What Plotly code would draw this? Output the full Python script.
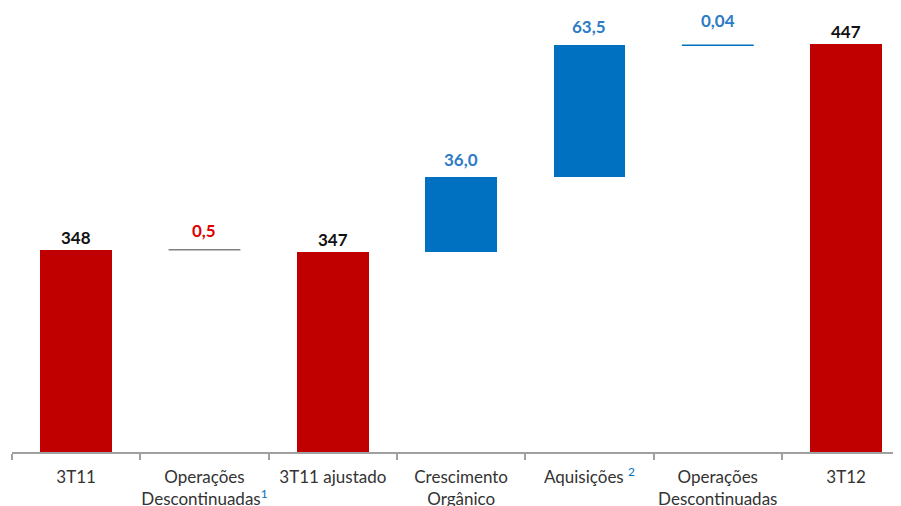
import plotly.graph_objects as go

categories = ["3T11", "Operações<br>Descontinuadas<sup><span style='color:#0070C0'>1</span></sup>",
              "3T11 ajustado", "Crescimento<br>Orgânico",
              "Aquisições <sup><span style='color:#0070C0'>2</span></sup>",
              "Operações<br>Descontinuadas", "3T12"]
values = [348, -0.5, 347, 36.0, 63.5, 0.04, 447]
labels = ["348", "0,5", "347", "36,0", "63,5", "0,04", "447"]
kinds = ["total", "line", "total", "delta", "delta", "line", "total"]

RED = "#C00000"
BLUE = "#0070C0"
GRAY = "#808080"
FONT = "Lato, Open Sans, sans-serif"

fig = go.Figure()

level = 0
bases, tops = [], []
for v, k in zip(values, kinds):
    if k == "total":
        bases.append(0)
        tops.append(v)
        level = v
    else:
        start = level
        level = level + v
        bases.append(start)
        tops.append(level)

bw = 0.56
xs = list(range(len(categories)))

for i, k in enumerate(kinds):
    if k == "total":
        fig.add_trace(go.Bar(x=[i], y=[tops[i]], base=0, width=bw,
                             marker=dict(color=RED, line=dict(width=0)), showlegend=False))
    elif k == "delta":
        fig.add_trace(go.Bar(x=[i], y=[tops[i] - bases[i]], base=bases[i], width=bw,
                             marker=dict(color=BLUE, line=dict(width=0)), showlegend=False))
    else:
        col = GRAY if values[i] < 0 else BLUE
        fig.add_trace(go.Scatter(x=[i - bw / 2, i + bw / 2], y=[bases[i], bases[i]], mode="lines",
                                 line=dict(color=col, width=1.5), showlegend=False))

label_colors = ["#111111", "#E00000", "#111111", "#2E7BC6", "#2E7BC6", "#2E7BC6", "#111111"]
label_shift = [0, 7, 0, 5, 6, 12, 0]
for i in range(len(categories)):
    y = max(tops[i], bases[i])
    fig.add_annotation(x=i, y=y, text="<b>" + labels[i] + "</b>", showarrow=False,
                       yanchor="bottom", yshift=label_shift[i],
                       font=dict(family=FONT, size=17, color=label_colors[i]))

fig.update_layout(
    width=901, height=506,
    margin=dict(l=4, r=0, t=0, b=62),
    plot_bgcolor="white", paper_bgcolor="white",
    bargap=0,
    font=dict(family=FONT, size=17, color="#333333"),
)
fig.update_xaxes(range=[-0.5, 6.49], tickmode="array", tickvals=xs, ticktext=categories,
                 ticks="", showline=True, linecolor="#A0A0A0", linewidth=1.5,
                 showgrid=False, zeroline=False, tickangle=0, ticklabelstandoff=9,
                 minor=dict(tickmode="linear", tick0=-0.5, dtick=1, ticks="outside",
                            ticklen=6, tickcolor="#A0A0A0", tickwidth=1.5, showgrid=False),
                 tickfont=dict(family=FONT, size=17, color="#333333"))
fig.update_yaxes(range=[250.6, 464.4], visible=False, showgrid=False, zeroline=False)

fig.write_html("out.html")
